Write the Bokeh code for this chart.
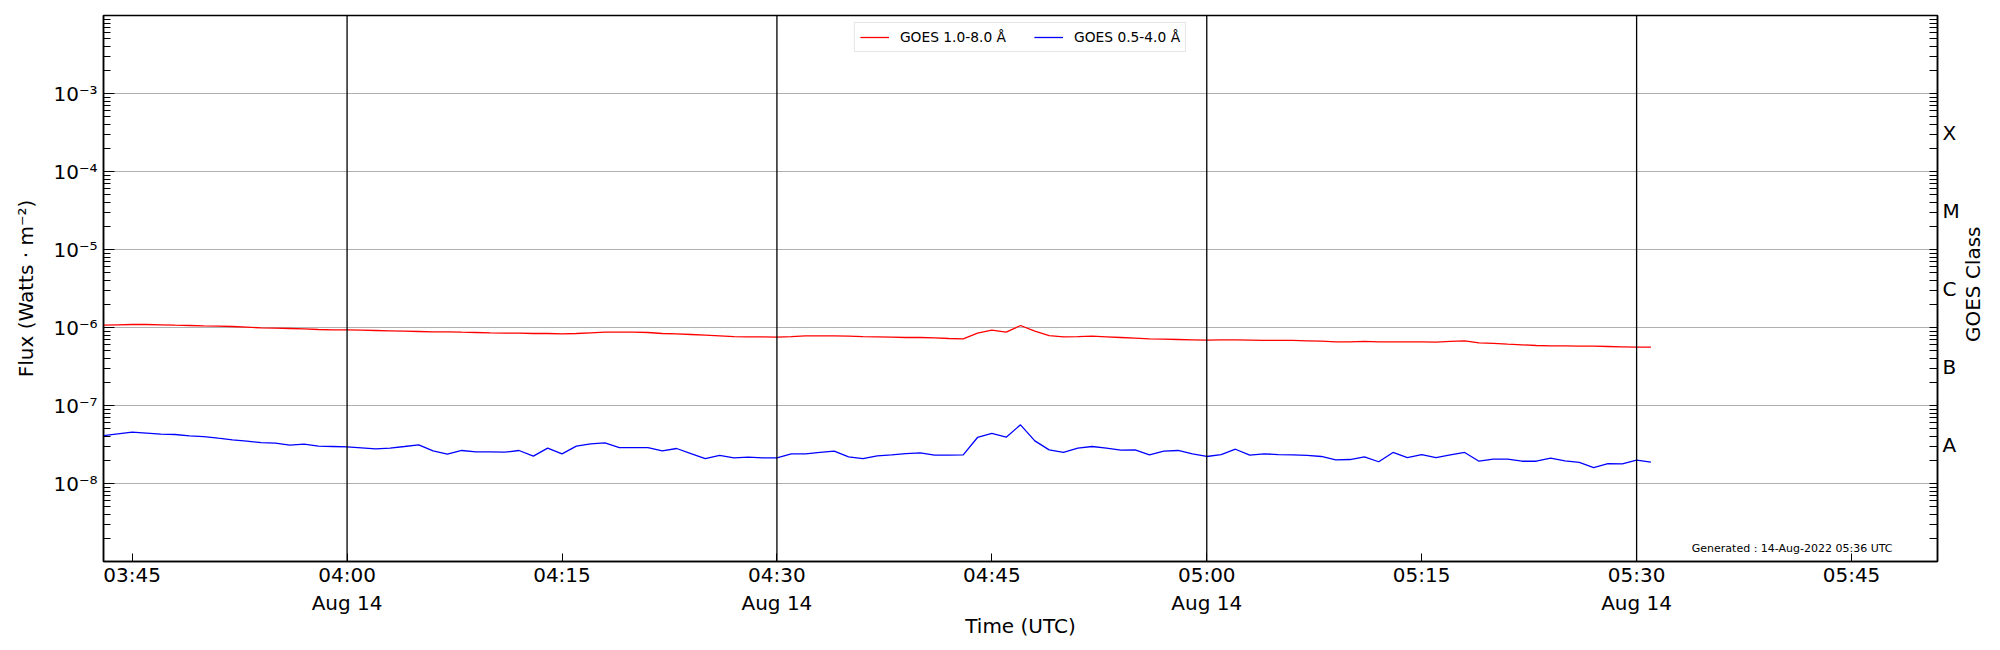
import math
import pandas as pd
from bokeh.plotting import figure
from bokeh.layouts import row
from bokeh.models import (ColumnDataSource, FixedTicker, CustomJSTickFormatter, LogAxis,
                          Span, Label, Legend, LegendItem)
from bokeh.core.properties import value
from bokeh.embed import file_html
from bokeh.resources import INLINE

# ---------------- data ----------------
start_time = "2022-08-14 03:43"
cadence = "1min"

flux_long = [  # GOES 1.0-8.0 A, W m^-2
    1.071e-6, 1.082e-6, 1.093e-6, 1.093e-6, 1.082e-6, 1.071e-6, 1.061e-6, 1.050e-6, 1.040e-6, 1.030e-6,
    1.010e-6, 0.990e-6, 0.981e-6, 0.971e-6, 0.961e-6, 0.943e-6, 0.933e-6, 0.933e-6, 0.924e-6, 0.915e-6,
    0.906e-6, 0.897e-6, 0.889e-6, 0.880e-6, 0.880e-6, 0.871e-6, 0.863e-6, 0.854e-6, 0.846e-6, 0.846e-6,
    0.838e-6, 0.838e-6, 0.829e-6, 0.838e-6, 0.854e-6, 0.871e-6, 0.871e-6, 0.871e-6, 0.863e-6, 0.838e-6,
    0.829e-6, 0.813e-6, 0.797e-6, 0.782e-6, 0.766e-6, 0.759e-6, 0.759e-6, 0.752e-6, 0.766e-6, 0.782e-6,
    0.782e-6, 0.782e-6, 0.774e-6, 0.766e-6, 0.759e-6, 0.752e-6, 0.744e-6, 0.744e-6, 0.737e-6, 0.723e-6,
    0.716e-6, 0.846e-6, 0.924e-6, 0.871e-6, 1.061e-6, 0.897e-6, 0.789e-6, 0.759e-6, 0.766e-6, 0.774e-6,
    0.759e-6, 0.744e-6, 0.730e-6, 0.716e-6, 0.709e-6, 0.702e-6, 0.695e-6, 0.688e-6, 0.695e-6, 0.695e-6,
    0.688e-6, 0.682e-6, 0.682e-6, 0.682e-6, 0.675e-6, 0.668e-6, 0.655e-6, 0.655e-6, 0.662e-6, 0.655e-6,
    0.655e-6, 0.655e-6, 0.655e-6, 0.649e-6, 0.662e-6, 0.675e-6, 0.636e-6, 0.624e-6, 0.611e-6, 0.599e-6,
    0.588e-6, 0.582e-6, 0.582e-6, 0.576e-6, 0.576e-6, 0.571e-6, 0.565e-6, 0.559e-6, 0.559e-6,
]

flux_short = [  # GOES 0.5-4.0 A, W m^-2
    4.12e-8, 4.33e-8, 4.55e-8, 4.42e-8, 4.29e-8, 4.25e-8, 4.08e-8, 4.00e-8, 3.81e-8, 3.63e-8,
    3.49e-8, 3.35e-8, 3.29e-8, 3.10e-8, 3.19e-8, 3.01e-8, 2.98e-8, 2.95e-8, 2.87e-8, 2.78e-8,
    2.84e-8, 2.98e-8, 3.13e-8, 2.62e-8, 2.38e-8, 2.65e-8, 2.55e-8, 2.55e-8, 2.52e-8, 2.65e-8,
    2.24e-8, 2.84e-8, 2.40e-8, 3.01e-8, 3.23e-8, 3.32e-8, 2.89e-8, 2.89e-8, 2.89e-8, 2.62e-8,
    2.81e-8, 2.42e-8, 2.09e-8, 2.29e-8, 2.13e-8, 2.18e-8, 2.13e-8, 2.13e-8, 2.40e-8, 2.40e-8,
    2.50e-8, 2.60e-8, 2.20e-8, 2.09e-8, 2.26e-8, 2.33e-8, 2.42e-8, 2.47e-8, 2.31e-8, 2.31e-8,
    2.33e-8, 3.89e-8, 4.38e-8, 3.93e-8, 5.65e-8, 3.52e-8, 2.70e-8, 2.50e-8, 2.84e-8, 2.98e-8,
    2.84e-8, 2.68e-8, 2.70e-8, 2.33e-8, 2.60e-8, 2.65e-8, 2.40e-8, 2.22e-8, 2.35e-8, 2.75e-8,
    2.31e-8, 2.40e-8, 2.35e-8, 2.33e-8, 2.29e-8, 2.22e-8, 2.01e-8, 2.03e-8, 2.20e-8, 1.90e-8,
    2.50e-8, 2.15e-8, 2.35e-8, 2.15e-8, 2.33e-8, 2.50e-8, 1.93e-8, 2.05e-8, 2.05e-8, 1.93e-8,
    1.93e-8, 2.11e-8, 1.95e-8, 1.86e-8, 1.60e-8, 1.80e-8, 1.79e-8, 1.99e-8, 1.88e-8,
]

x_start = "2022-08-14 03:43"
x_end = "2022-08-14 05:51"

xtick_times = ["2022-08-14 03:45", "2022-08-14 04:00", "2022-08-14 04:15", "2022-08-14 04:30",
               "2022-08-14 04:45", "2022-08-14 05:00", "2022-08-14 05:15", "2022-08-14 05:30",
               "2022-08-14 05:45"]
xtick_labels = ["03:45", "04:00\nAug 14", "04:15", "04:30\nAug 14", "04:45", "05:00\nAug 14",
                "05:15", "05:30\nAug 14", "05:45"]

vline_times = ["2022-08-14 04:00", "2022-08-14 04:30", "2022-08-14 05:00", "2022-08-14 05:30"]

ytick_values = [1e-8, 1e-7, 1e-6, 1e-5, 1e-4, 1e-3]
ytick_labels = ["10⁻⁸", "10⁻⁷", "10⁻⁶", "10⁻⁵", "10⁻⁴", "10⁻³"]

class_values = [10 ** -7.5, 10 ** -6.5, 10 ** -5.5, 10 ** -4.5, 10 ** -3.5]
class_labels = ["A", "B", "C", "M", "X"]
class_axis_title = "GOES Class"

series_labels = ["GOES 1.0-8.0 Å", "GOES 0.5-4.0 Å"]
generated_text = "Generated : 14-Aug-2022 05:36 UTC"

# ---------------- plot ----------------
FONT = "DejaVu Sans"
FULL_H = 642
times = pd.date_range(start_time, periods=len(flux_long), freq=cadence)
src = ColumnDataSource(dict(t=times, long=flux_long, short=flux_short))

def ms(s):
    return pd.Timestamp(s).value / 1e6

p = figure(x_axis_type="datetime", y_axis_type="log",
           x_range=(pd.Timestamp(x_start), pd.Timestamp(x_end)), y_range=(1e-9, 1e-2),
           frame_width=1834, frame_height=546,
           min_border_left=103, min_border_right=25, min_border_top=15, min_border_bottom=81,
           output_backend="svg", toolbar_location=None)
p.background_fill_color = "white"
p.border_fill_color = "white"
p.outline_line_color = "black"
p.outline_line_width = 1.5

minor_logs = [m * 10.0 ** e for e in range(-9, -1) for m in range(2, 10)]

# left axis
ly = p.yaxis[0]
ly.ticker = FixedTicker(ticks=ytick_values, minor_ticks=minor_logs)
ly.formatter = CustomJSTickFormatter(args=dict(vals=ytick_values, labs=ytick_labels), code="""
    for (let i = 0; i < vals.length; i++) {
        if (Math.abs(Math.log10(vals[i]) - Math.log10(tick)) < 1e-6) return labs[i];
    }
    return "";
""")
ly.major_tick_in = 11
ly.major_tick_out = 0
ly.minor_tick_in = 7
ly.minor_tick_out = 0
ly.major_label_standoff = 6
ly.major_label_text_font = FONT
ly.major_label_text_font_size = "20px"
ly.major_label_text_color = "black"
ly.axis_label = "Flux (Watts · m⁻²)"
ly.axis_label_text_font = FONT
ly.axis_label_text_font_size = "20px"
ly.axis_label_text_font_style = "normal"
ly.axis_label_text_color = "black"
ly.axis_label_standoff = 12
ly.axis_line_width = 1.5

# bottom axis
bx = p.xaxis[0]
bx.ticker = FixedTicker(ticks=[ms(t) for t in xtick_times], minor_ticks=[])
bx.formatter = CustomJSTickFormatter(args=dict(vals=[ms(t) for t in xtick_times], labs=xtick_labels), code="""
    for (let i = 0; i < vals.length; i++) {
        if (Math.abs(vals[i] - tick) < 1000) return labs[i];
    }
    return "";
""")
bx.major_tick_in = 8
bx.major_tick_out = 0
bx.minor_tick_in = 0
bx.minor_tick_out = 0
bx.major_label_standoff = 1
bx.major_label_text_font = FONT
bx.major_label_text_font_size = "20px"
bx.major_label_text_color = "black"
bx.axis_label = "Time (UTC)"
bx.axis_label_text_font = FONT
bx.axis_label_text_font_size = "20px"
bx.axis_label_text_font_style = "normal"
bx.axis_label_text_color = "black"
bx.axis_label_standoff = -4
bx.axis_line_width = 1.5

# right axis (GOES class letters)
ry = LogAxis(ticker=FixedTicker(ticks=class_values, minor_ticks=ytick_values + minor_logs))
ry.formatter = CustomJSTickFormatter(args=dict(vals=class_values, labs=class_labels), code="""
    for (let i = 0; i < vals.length; i++) {
        if (Math.abs(Math.log10(vals[i]) - Math.log10(tick)) < 1e-6) return labs[i];
    }
    return "";
""")
ry.major_tick_in = 0
ry.major_tick_out = 0
ry.minor_tick_in = 8
ry.minor_tick_out = 0
ry.major_label_standoff = 5
ry.major_label_text_font = FONT
ry.major_label_text_font_size = "20px"
ry.major_label_text_color = "black"
ry.axis_line_width = 1.5
p.add_layout(ry, "right")

# grids
p.xgrid.grid_line_color = None
p.ygrid.ticker = ly.ticker
p.ygrid.grid_line_color = "#b0b0b0"
p.ygrid.grid_line_width = 1.2

# vertical lines
for t in vline_times:
    p.add_layout(Span(location=ms(t), dimension="height", line_color="black", line_width=1.3))

r1 = p.line("t", "long", source=src, line_color="#ff0000", line_width=1.3)
r2 = p.line("t", "short", source=src, line_color="#0000ff", line_width=1.3)

legend = Legend(items=[LegendItem(label=series_labels[0], renderers=[r1]),
                       LegendItem(label=series_labels[1], renderers=[r2])],
                location="top_center", orientation="horizontal",
                margin=7, padding=5, spacing=28, label_standoff=11,
                glyph_width=29, glyph_height=18,
                label_text_font=FONT, label_text_font_size="13.8px",
                label_text_color="black",
                border_line_color="#cccccc", border_line_width=1,
                background_fill_color="white", background_fill_alpha=0.8)
p.add_layout(legend)

p.add_layout(Label(x=1789, y=13, x_units="screen", y_units="screen", text=generated_text,
                   text_align="right", text_baseline="alphabetic",
                   text_font=FONT, text_font_size="11px", text_color="black"))

# side strip holding the right-hand axis title (reads bottom-to-top)
p2 = figure(width=30, height=FULL_H, x_range=(0, 30), y_range=(0, FULL_H),
            x_axis_location=None, y_axis_location=None, min_border=0,
            output_backend="svg", toolbar_location=None)
p2.outline_line_color = None
p2.grid.visible = False
p2.background_fill_color = "white"
p2.border_fill_color = "white"
p2.text(x=[10.5], y=[FULL_H - 316], text=[class_axis_title], angle=math.pi / 2,
        text_align="center", text_baseline="middle",
        text_font=value(FONT), text_font_size="20px", text_color="black")

layout = row(p, p2)
open("out.html", "w").write(file_html(layout, INLINE))
